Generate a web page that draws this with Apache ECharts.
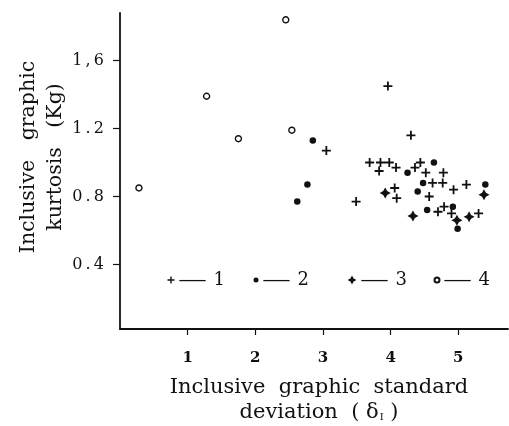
<!DOCTYPE html>
<html>
<head>
<meta charset="utf-8">
<script src="https://cdn.jsdelivr.net/npm/echarts@6/dist/echarts.min.js"></script>
<style>
  html, body { margin: 0; padding: 0; background: #fff; }
  #chart { width: 509px; height: 426px; }
</style>
</head>
<body>
<div id="chart"></div>
<script>
// sample groups, [sd, kurtosis]
var plusPts = [
  [3.96, 1.45], [4.30, 1.16], [3.05, 1.07], [3.49, 0.77], [3.69, 1.00],
  [3.85, 1.00], [3.98, 1.00], [4.08, 0.97], [3.83, 0.95], [4.36, 0.97],
  [4.44, 1.00], [4.52, 0.94], [4.78, 0.94], [4.62, 0.88], [4.77, 0.88],
  [4.93, 0.84], [5.12, 0.87], [4.57, 0.80], [4.06, 0.85], [4.09, 0.79],
  [4.70, 0.71], [4.79, 0.74], [4.90, 0.70], [5.30, 0.70]
];
var dotPts = [
  [2.85, 1.13], [2.77, 0.87], [2.62, 0.77], [4.64, 1.00], [4.25, 0.94],
  [4.48, 0.88], [5.40, 0.87], [4.40, 0.83], [4.54, 0.72], [4.92, 0.74],
  [4.99, 0.61]
];
var starPts = [
  [3.92, 0.82], [4.33, 0.685], [4.98, 0.66], [5.16, 0.68], [5.38, 0.81]
];
var ringPts = [
  [2.45, 1.84], [1.28, 1.39], [1.75, 1.14], [2.54, 1.19], [0.28, 0.85]
];
var groupNames = ['1', '2', '3', '4'];
var xTicks = [1, 2, 3, 4, 5];
var yTicks = [0.4, 0.8, 1.2, 1.6];

var plusPath = 'path://M3.2,0H4.8V3.2H8V4.8H4.8V8H3.2V4.8H0V3.2H3.2Z';
var starPath = 'path://M5,0L6.8,3.2L10,5L6.8,6.8L5,10L3.2,6.8L0,5L3.2,3.2Z';
var ink = '#111';
var serif = 'DejaVu Serif';

var chart = echarts.init(document.getElementById('chart'));

// one legend per group so each entry sits where the original has it
function legendAt(name, left, size) {
  return {
    data: [name],
    left: left,
    top: 262,
    itemWidth: size,
    itemHeight: size,
    selectedMode: false,
    formatter: function (n) { return '{d|\u2014}{n|' + n + '}'; },
    textStyle: {
      color: ink,
      rich: {
        d: { fontFamily: 'Liberation Serif', fontSize: 26, color: ink },
        n: { fontFamily: serif, fontSize: 18, color: ink, padding: [0, 0, 0, 8] }
      }
    }
  };
}

var option = {
  backgroundColor: '#fff',
  animation: false,
  grid: { left: 120, right: 1, top: 13, bottom: 97, outerBoundsMode: 'none' },
  legend: [
    legendAt('1', 162.5, 7),
    legendAt('2', 248.5, 5),
    legendAt('3', 342.5, 9),
    legendAt('4', 428.5, 5)
  ],
  xAxis: {
    type: 'value',
    min: 0,
    max: 5.735,
    name: 'Inclusive  graphic  standard\ndeviation  ( \u03b4{sub|I} )',
    nameLocation: 'middle',
    nameGap: 46,
    nameMoveOverlap: false,
    nameTextStyle: {
      fontFamily: serif, fontSize: 21, color: ink, lineHeight: 25,
      padding: [0, 0, 0, 10],
      rich: {
        sub: { fontFamily: serif, fontSize: 10, color: ink, padding: [9, 0, 0, 1] }
      }
    },
    splitLine: { show: false },
    axisLine: { lineStyle: { color: ink, width: 1.8 } },
    axisTick: { customValues: xTicks, length: 6, lineStyle: { color: ink, width: 1.2 } },
    axisLabel: {
      customValues: xTicks, margin: 22,
      fontFamily: serif, fontSize: 15, color: ink, fontWeight: 'bold'
    }
  },
  yAxis: {
    type: 'value',
    min: 0.02,
    max: 1.88,
    name: 'Inclusive   graphic\nkurtosis   (Kg)',
    nameLocation: 'middle',
    nameRotate: 90,
    nameGap: 51,
    nameMoveOverlap: false,
    nameTextStyle: {
      fontFamily: serif, fontSize: 20.5, color: ink, lineHeight: 27,
      padding: [0, 0, 0, 28]
    },
    splitLine: { show: false },
    axisLine: { lineStyle: { color: ink, width: 1.8 } },
    axisTick: { customValues: yTicks, length: 7, lineStyle: { color: ink, width: 1.2 } },
    axisLabel: {
      customValues: yTicks, margin: 16,
      fontFamily: serif, fontSize: 16, color: ink,
      formatter: function (v) {
        var s = v.toFixed(1);
        if (s === '1.6') s = '1,6';
        return s.replace(/([.,])/, '\u2009$1\u2009');
      }
    }
  },
  series: [
    {
      name: groupNames[0], type: 'scatter', data: plusPts,
      symbol: plusPath, symbolSize: 9,
      itemStyle: { color: ink, opacity: 1 }
    },
    {
      name: groupNames[1], type: 'scatter', data: dotPts,
      symbol: 'circle', symbolSize: 6.5,
      itemStyle: { color: ink, opacity: 1 }
    },
    {
      name: groupNames[2], type: 'scatter', data: starPts,
      symbol: starPath, symbolSize: 11,
      itemStyle: { color: ink, opacity: 1 }
    },
    {
      name: groupNames[3], type: 'scatter', data: ringPts,
      symbol: 'circle', symbolSize: 6,
      itemStyle: { color: '#fff', borderColor: ink, borderWidth: 1.4, opacity: 1 }
    }
  ]
};

chart.setOption(option);
</script>
</body>
</html>
